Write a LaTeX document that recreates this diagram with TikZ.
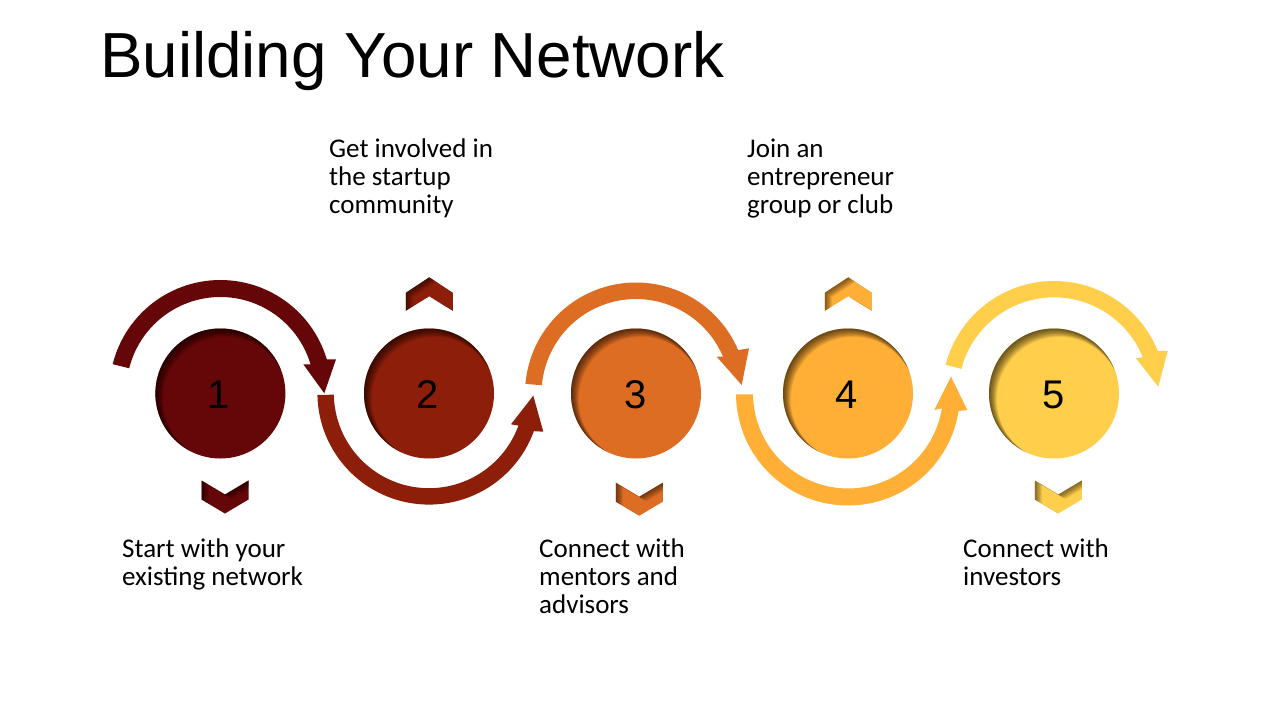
\documentclass[tikz,border=0pt]{standalone}
\usepackage{fontspec}
\setmainfont{Liberation Sans}
\newfontfamily\bodyfont{Carlito}
\definecolor{cA}{HTML}{650708}
\definecolor{cB}{HTML}{8C1E0A}
\definecolor{cC}{HTML}{DE6D24}
\definecolor{cD}{HTML}{FFAE36}
\definecolor{cE}{HTML}{FFCE4A}
\tikzset{
  numlabel/.style={font=\fontsize{40}{40}\selectfont,text=black,inner sep=0pt},
  bodytext/.style={font=\bodyfont\fontsize{27}{28}\selectfont,align=left,anchor=north west,inner sep=0pt,text=black},
  titletext/.style={font=\fontsize{63.7}{64}\selectfont,anchor=base west,inner sep=0pt,text=black}
}
% #1 colour, #2 x, #3 y
\newcommand\holedisc[3]{%
  \fill[#1] (#2,#3) circle[radius=65pt];
  \begin{scope}
    \clip (#2,#3) circle[radius=65pt];
    \foreach \k in {1,...,12}{%
      \pgfmathsetmacro\rr{65-0.2*\k}%
      \fill[black,opacity=0.065,even odd rule] (0,0) rectangle (1280,720)
        ({#2+0.45*\k},{#3+0.5*\k}) circle[radius=\rr pt];
    }
  \end{scope}}
% #1 colour, #2 shape path as coordinates
\newcommand\holechev[2]{%
  \fill[#1] #2;
  \begin{scope}
    \clip #2;
    \foreach \k in {1,...,9}{%
      \begin{scope}[shift={({0.8*\k},{0.5*\k})}]
        \fill[black,opacity=0.065,even odd rule] (-50,-50) rectangle (1280,720) #2;
      \end{scope}
    }
  \end{scope}}
\newcommand\chevdown[3]{\holechev{#1}{(#2-23.5,#3) -- (#2,#3+14) -- (#2+23.5,#3) -- (#2+23.5,#3+19) -- (#2,#3+33) -- (#2-23.5,#3+19) -- cycle}}
\newcommand\chevup[3]{\holechev{#1}{(#2-23.5,#3+15.5) -- (#2,#3) -- (#2+23.5,#3+15.5) -- (#2+23.5,#3+33.5) -- (#2,#3+19) -- (#2-23.5,#3+33.5) -- cycle}}
% #1 colour, #2 cx, #3 cy, #4 Ro, #5 Ri, #6 a0, #7 a1, #8 outer base, #9 tip; next argument: inner base
\newcommand\bentarrow[9]{\def\bA{#1}\def\bB{#2}\def\bC{#3}\def\bD{#4}\def\bE{#5}\def\bF{#6}\def\bG{#7}\def\bH{#8}\def\bI{#9}\bentarrowC}
\newcommand\bentarrowC[1]{%
  \fill[\bA] plot[domain=\bF:\bG,samples=60,variable=\t] ({\bB+\bD*cos(\t)},{\bC+\bD*sin(\t)})
     -- \bH -- \bI -- #1
     -- plot[domain=\bG:\bF,samples=60,variable=\t] ({\bB+\bE*cos(\t)},{\bC+\bE*sin(\t)}) -- cycle;}
\begin{document}
\begin{tikzpicture}[x=1pt,y=-1pt]
\useasboundingbox (0,0) rectangle (1280,720);
\fill[white] (0,0) rectangle (1280,720);

\node[titletext] (title) at (100,77) {Building Your Network};

% arrows
\bentarrow{cA}{220.4}{391}{111}{94}{194}{343.5}{(336,359.3)}{(324.3,393.3)}{(303.3,364.3)}
\bentarrow{cB}{429}{393}{111.6}{95.2}{179}{20}{(543.3,431.7)}{(533.3,395.7)}{(511,424.3)}
\bentarrow{cC}{636}{393.5}{111}{94.5}{185}{337}{(749,348.3)}{(741.7,385)}{(716.7,356.7)}
\bentarrow{cD}{848}{393.5}{112}{95}{179.5}{9}{(967.3,410)}{(951,376.7)}{(934.3,410)}
\bentarrow{cE}{1054}{393}{112}{95.7}{194.6}{338}{(1167.7,351)}{(1158.3,386.7)}{(1136,358.3)}

% discs
\holedisc{cA}{220.4}{393.5}
\holedisc{cB}{429}{393.5}
\holedisc{cC}{636}{393.5}
\holedisc{cD}{848}{393.5}
\holedisc{cE}{1054}{393.5}
\node[numlabel] (n1) at (218.5,394.5) {1};
\node[numlabel] (n2) at (427.5,394.5) {2};
\node[numlabel] (n3) at (636,394.5) {3};
\node[numlabel] (n4) at (846.7,394.5) {4};
\node[numlabel] (n5) at (1053.8,394.5) {5};

% chevrons
\chevdown{cA}{225}{480.5}
\chevup{cB}{429.3}{277.3}
\chevdown{cC}{639.3}{482.7}
\chevup{cD}{848.3}{277.3}
\chevdown{cE}{1058.3}{480.5}

% texts
\node[bodytext] (t2) at (329,138.5) {Get involved in\\the startup\\community};
\node[bodytext] (t4) at (747,138.5) {Join an\\entrepreneur\\group or club};
\node[bodytext] (t1) at (122,538.5) {Start with your\\existing network};
\node[bodytext] (t3) at (539,538.5) {Connect with\\mentors and\\advisors};
\node[bodytext] (t5) at (963,538.5) {Connect with\\investors};
\end{tikzpicture}
\end{document}
